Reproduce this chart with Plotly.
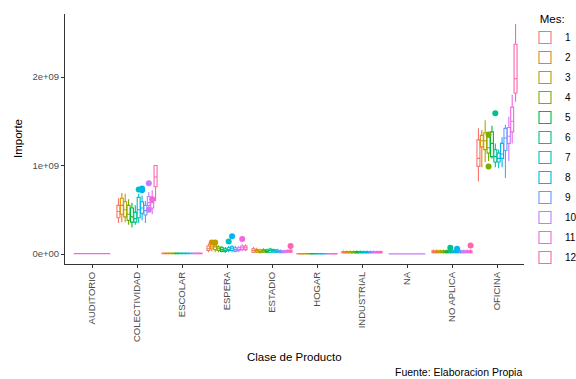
import plotly.graph_objects as go

SCALE = 1e9  # values below are in units of 1e9

CATEGORIES = ["AUDITORIO", "COLECTIVIDAD", "ESCOLAR", "ESPERA", "ESTADIO",
              "HOGAR", "INDUSTRIAL", "NA", "NO APLICA", "OFICINA"]
MONTHS = [str(m) for m in range(1, 13)]
COLORS = ["#F8766D", "#DE8C00", "#B79F00", "#7CAE00", "#00BA38", "#00C08B",
          "#00BFC4", "#00B4F0", "#619CFF", "#C77CFF", "#F564E3", "#FF64B0"]

# categories with all 12 months (dodged boxes)
GROUPED = ["COLECTIVIDAD", "ESCOLAR", "ESPERA", "ESTADIO", "HOGAR",
           "INDUSTRIAL", "NO APLICA", "OFICINA"]

# box statistics per category, one value per month 1..12
LOWER = {
    "COLECTIVIDAD": [0.35, 0.36, 0.36, 0.33, 0.30, 0.33, 0.35, 0.38, 0.35, 0.52, 0.45, 0.60],
    "ESCOLAR":      [0.000, 0.000, 0.000, 0.000, 0.000, 0.000, 0.000, 0.000, 0.000, 0.000, 0.000, 0.000],
    "ESPERA":       [0.02, 0.03, 0.02, 0.02, 0.02, 0.01, 0.02, 0.02, 0.02, 0.02, 0.03, 0.03],
    "ESTADIO":      [0.01, 0.01, 0.01, 0.01, 0.01, 0.01, 0.01, 0.01, 0.01, 0.01, 0.01, 0.01],
    "HOGAR":        [0.000, 0.000, 0.000, 0.000, 0.000, 0.000, 0.000, 0.000, 0.000, 0.000, 0.000, 0.000],
    "INDUSTRIAL":   [0.005, 0.005, 0.005, 0.005, 0.005, 0.005, 0.005, 0.005, 0.005, 0.005, 0.005, 0.005],
    "NO APLICA":    [0.005, 0.005, 0.005, 0.005, 0.005, 0.005, 0.005, 0.005, 0.005, 0.005, 0.005, 0.005],
    "OFICINA":      [0.82, 0.98, 1.04, 1.05, 1.08, 0.98, 0.97, 0.98, 0.86, 1.05, 1.25, 1.72],
}
Q1 = {
    "COLECTIVIDAD": [0.41, 0.45, 0.42, 0.38, 0.36, 0.36, 0.41, 0.46, 0.44, 0.55, 0.52, 0.76],
    "ESCOLAR":      [0.003, 0.003, 0.003, 0.003, 0.003, 0.003, 0.003, 0.003, 0.003, 0.003, 0.003, 0.003],
    "ESPERA":       [0.04, 0.06, 0.05, 0.04, 0.03, 0.03, 0.04, 0.04, 0.03, 0.04, 0.05, 0.05],
    "ESTADIO":      [0.02, 0.02, 0.015, 0.02, 0.02, 0.02, 0.02, 0.02, 0.015, 0.015, 0.02, 0.02],
    "HOGAR":        [0.001, 0.001, 0.001, 0.001, 0.001, 0.001, 0.001, 0.001, 0.001, 0.001, 0.001, 0.001],
    "INDUSTRIAL":   [0.012, 0.012, 0.012, 0.012, 0.012, 0.012, 0.012, 0.012, 0.012, 0.012, 0.012, 0.012],
    "NO APLICA":    [0.015, 0.015, 0.015, 0.015, 0.015, 0.015, 0.015, 0.015, 0.015, 0.015, 0.015, 0.015],
    "OFICINA":      [0.99, 1.21, 1.18, 1.14, 1.10, 1.04, 1.04, 1.08, 1.17, 1.25, 1.38, 1.82],
}
MEDIAN = {
    "COLECTIVIDAD": [0.48, 0.55, 0.50, 0.45, 0.42, 0.40, 0.50, 0.52, 0.49, 0.58, 0.58, 0.87],
    "ESCOLAR":      [0.006, 0.006, 0.006, 0.006, 0.006, 0.006, 0.006, 0.006, 0.006, 0.006, 0.006, 0.006],
    "ESPERA":       [0.06, 0.08, 0.08, 0.06, 0.05, 0.04, 0.05, 0.06, 0.05, 0.05, 0.07, 0.07],
    "ESTADIO":      [0.04, 0.035, 0.03, 0.035, 0.03, 0.04, 0.035, 0.03, 0.025, 0.025, 0.03, 0.03],
    "HOGAR":        [0.002, 0.002, 0.002, 0.002, 0.002, 0.002, 0.002, 0.002, 0.002, 0.002, 0.002, 0.002],
    "INDUSTRIAL":   [0.02, 0.02, 0.02, 0.02, 0.02, 0.02, 0.02, 0.02, 0.02, 0.02, 0.02, 0.02],
    "NO APLICA":    [0.025, 0.025, 0.025, 0.025, 0.025, 0.025, 0.025, 0.025, 0.025, 0.025, 0.025, 0.025],
    "OFICINA":      [1.08, 1.28, 1.28, 1.20, 1.25, 1.10, 1.08, 1.13, 1.31, 1.33, 1.50, 1.98],
}
Q3 = {
    "COLECTIVIDAD": [0.55, 0.63, 0.59, 0.55, 0.52, 0.47, 0.64, 0.59, 0.55, 0.65, 0.64, 1.00],
    "ESCOLAR":      [0.010, 0.010, 0.010, 0.010, 0.010, 0.010, 0.010, 0.010, 0.010, 0.010, 0.010, 0.010],
    "ESPERA":       [0.09, 0.11, 0.10, 0.08, 0.07, 0.06, 0.07, 0.08, 0.07, 0.07, 0.09, 0.09],
    "ESTADIO":      [0.06, 0.05, 0.045, 0.05, 0.045, 0.055, 0.05, 0.045, 0.04, 0.035, 0.04, 0.045],
    "HOGAR":        [0.004, 0.004, 0.004, 0.004, 0.004, 0.004, 0.004, 0.004, 0.004, 0.004, 0.004, 0.004],
    "INDUSTRIAL":   [0.028, 0.028, 0.028, 0.028, 0.028, 0.028, 0.028, 0.028, 0.028, 0.028, 0.028, 0.028],
    "NO APLICA":    [0.035, 0.035, 0.035, 0.035, 0.035, 0.035, 0.035, 0.035, 0.035, 0.035, 0.035, 0.035],
    "OFICINA":      [1.29, 1.34, 1.37, 1.32, 1.38, 1.18, 1.14, 1.25, 1.42, 1.43, 1.66, 2.37],
}
UPPER = {
    "COLECTIVIDAD": [0.63, 0.69, 0.68, 0.62, 0.58, 0.55, 0.68, 0.66, 0.60, 0.70, 0.72, 1.00],
    "ESCOLAR":      [0.015, 0.015, 0.015, 0.015, 0.015, 0.015, 0.015, 0.015, 0.015, 0.015, 0.015, 0.015],
    "ESPERA":       [0.12, 0.14, 0.13, 0.10, 0.09, 0.08, 0.09, 0.10, 0.09, 0.09, 0.11, 0.11],
    "ESTADIO":      [0.08, 0.07, 0.06, 0.065, 0.06, 0.07, 0.06, 0.06, 0.05, 0.045, 0.05, 0.06],
    "HOGAR":        [0.006, 0.006, 0.006, 0.006, 0.006, 0.006, 0.006, 0.006, 0.006, 0.006, 0.006, 0.006],
    "INDUSTRIAL":   [0.04, 0.04, 0.04, 0.04, 0.04, 0.04, 0.04, 0.04, 0.04, 0.04, 0.04, 0.04],
    "NO APLICA":    [0.05, 0.05, 0.05, 0.05, 0.05, 0.05, 0.05, 0.05, 0.05, 0.05, 0.05, 0.05],
    "OFICINA":      [1.42, 1.40, 1.51, 1.30, 1.45, 1.25, 1.18, 1.32, 1.46, 1.55, 1.80, 2.60],
}

# single-month categories (drawn full width): category, month, [lower, q1, median, q3, upper]
SINGLE_CATS = ["AUDITORIO", "NA"]
SINGLE_MONTH = ["11", "10"]
SINGLE_STATS = [[0.002, 0.003, 0.004, 0.005, 0.006],
                [0.000, 0.001, 0.001, 0.002, 0.002]]

# outliers: category, month, value
OUT_CAT = ["COLECTIVIDAD", "COLECTIVIDAD", "COLECTIVIDAD", "COLECTIVIDAD", "COLECTIVIDAD", "COLECTIVIDAD",
           "ESPERA", "ESPERA", "ESPERA", "ESPERA", "ESPERA",
           "ESTADIO", "NO APLICA", "NO APLICA", "NO APLICA",
           "OFICINA", "OFICINA", "OFICINA"]
OUT_MONTH = ["7", "8", "8", "10", "10", "11",
             "2", "3", "7", "8", "11",
             "12", "6", "8", "12",
             "4", "4", "6"]
OUT_VALUE = [0.73, 0.74, 0.72, 0.80, 0.50, 0.62,
             0.13, 0.13, 0.14, 0.20, 0.17,
             0.09, 0.07, 0.06, 0.095,
             1.35, 0.99, 1.59]

fig = go.Figure()

for i, m in enumerate(MONTHS):
    fig.add_trace(go.Box(
        x=GROUPED,
        lowerfence=[LOWER[c][i] * SCALE for c in GROUPED],
        q1=[Q1[c][i] * SCALE for c in GROUPED],
        median=[MEDIAN[c][i] * SCALE for c in GROUPED],
        q3=[Q3[c][i] * SCALE for c in GROUPED],
        upperfence=[UPPER[c][i] * SCALE for c in GROUPED],
        name=m, legendgroup=m, offsetgroup=m, alignmentgroup="months",
        line=dict(color=COLORS[i], width=1.1), fillcolor="white",
        whiskerwidth=0, boxpoints=False,
    ))

for i, m in enumerate(MONTHS):
    xs = [c for c, mm in zip(OUT_CAT, OUT_MONTH) if mm == m]
    ys = [v * SCALE for v, mm in zip(OUT_VALUE, OUT_MONTH) if mm == m]
    if not xs:
        continue
    fig.add_trace(go.Box(
        x=xs, y=ys, name=m, legendgroup=m, showlegend=False,
        offsetgroup=m, alignmentgroup="months",
        boxpoints="all", jitter=0, pointpos=0,
        line=dict(color="rgba(0,0,0,0)", width=0), fillcolor="rgba(0,0,0,0)",
        marker=dict(color=COLORS[i], size=6, line=dict(width=0)),
        whiskerwidth=0, hoverinfo="skip",
    ))

for cat, m, st in zip(SINGLE_CATS, SINGLE_MONTH, SINGLE_STATS):
    ci = MONTHS.index(m)
    fig.add_trace(go.Box(
        x=[cat], lowerfence=[st[0] * SCALE], q1=[st[1] * SCALE], median=[st[2] * SCALE],
        q3=[st[3] * SCALE], upperfence=[st[4] * SCALE],
        name=m, legendgroup=m, showlegend=False,
        offsetgroup="solo", alignmentgroup="solo",
        line=dict(color=COLORS[ci], width=1.1), fillcolor="white",
        whiskerwidth=0, boxpoints=False,
    ))

FONT = "Liberation Sans, Arial, sans-serif"
tick_font = dict(family=FONT, size=9.5, color="#4D4D4D")
title_font = dict(family=FONT, size=11.5, color="black")

L, R, T, B = 65, 52, 14, 115
pw, ph = 576 - L - R, 379 - T - B

fig.update_layout(
    width=576, height=379,
    margin=dict(l=L, r=R, t=T, b=B, autoexpand=False),
    paper_bgcolor="white", plot_bgcolor="white",
    boxmode="group", boxgap=0.1, boxgroupgap=0.12,
    font=dict(family=FONT),
    legend=dict(
        title=dict(text="&nbsp;&nbsp;&nbsp;&nbsp;Mes:", font=title_font),
        font=dict(family=FONT, size=10, color="black"),
        x=1.0 + 1 / pw, xanchor="left", y=1.0 + 6 / ph, yanchor="top",
        itemwidth=30, tracegroupgap=1, bgcolor="rgba(0,0,0,0)",
        maxheight=379,
    ),
    xaxis=dict(
        type="category", categoryorder="array", categoryarray=CATEGORIES,
        range=[-0.6, 9.6], showgrid=False, zeroline=False,
        showline=True, linecolor="#333333", linewidth=1,
        ticks="outside", ticklen=3, tickcolor="#333333",
        tickangle=-90, tickfont=tick_font, automargin=False,
    ),
    yaxis=dict(
        range=[-0.113 * SCALE, 2.712 * SCALE], showgrid=False, zeroline=False,
        showline=True, linecolor="#333333", linewidth=1,
        ticks="outside", ticklen=3, tickcolor="#333333",
        tickvals=[0, 1e9, 2e9], ticktext=["0e+00", "1e+09", "2e+09"],
        tickfont=tick_font, automargin=False,
    ),
    annotations=[
        dict(text="Clase de Producto", x=0.5, xref="paper", y=(379 - B - 357) / ph, yref="paper",
             showarrow=False, font=title_font, xanchor="center", yanchor="middle"),
        dict(text="Importe", x=(18 - L) / pw, y=0.5, xref="paper", yref="paper", textangle=-90,
             showarrow=False, font=title_font, xanchor="center", yanchor="middle"),
        dict(text="Fuente: Elaboracion Propia", x=1.0, xref="paper", y=(379 - B - 372) / ph, yref="paper",
             showarrow=False, font=dict(family=FONT, size=10.5, color="black"),
             xanchor="right", yanchor="middle"),
    ],
)

fig.write_html("out.html", config={"displayModeBar": False},
               post_script="document.body.style.margin='0px';document.body.style.padding='0px';")
